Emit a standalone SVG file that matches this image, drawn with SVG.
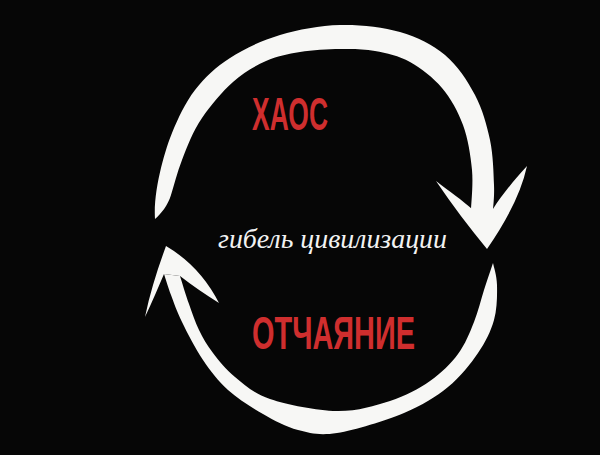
<svg xmlns="http://www.w3.org/2000/svg" width="600" height="455" viewBox="0 0 600 455">
<style>
.arrow{fill:#f7f7f5;stroke:none}
.red{fill:#cf2e2e;font-family:"Liberation Sans Narrow","Liberation Sans",sans-serif;font-weight:bold;font-size:46px}
.sub{fill:#f2f2f2;font-family:"Liberation Serif","DejaVu Serif",serif;font-style:italic;font-size:27px}
</style>
<rect width="600" height="455" fill="#060606"/>
<g id="connectors">
<g id="arrow-top">
<path class="arrow" d="M155,219 C153,190 165.7,148 172,133 C178.3,118 185.3,102.5 195,90 C204.7,77.5 215.8,67.2 230,58 C244.2,48.8 261.7,40.5 280,35 C298.3,29.5 320,25.5 340,25 C360,24.5 382.5,27 400,32 C417.5,37 432.5,44.5 445,55 C457.5,65.5 467.5,80.8 475,95 C482.5,109.2 486.8,125 490,140 C493.2,155 493.5,173.3 494,185 C494.5,196.7 493.2,205.8 493,210 L471,210 C471.2,203.3 473.3,184.2 472,170 C470.7,155.8 468,138.7 463,125 C458,111.3 450.8,98.5 442,88 C433.2,77.5 421.2,68.2 410,62 C398.8,55.8 386.7,53.2 375,51 C363.3,48.8 352.5,48.8 340,49 C327.5,49.2 312.3,50 300,52 C287.7,54 277.2,56 266,61 C254.8,66 243.8,72.5 233,82 C222.2,91.5 211,105 202,118 C193,131 187,147 182,160 C177,173 174,185 171,195 C168,205 161,214 155,219 Z"/>
<path class="arrow" d="M487,249 C470,228 452,205 436,181 C450,192 462,200 472,209 L493,209 C502,195 514,180 527,166 Q519,203 487,249 Z"/>
</g>
<g id="arrow-bottom">
<path class="arrow" d="M493,263 C493.7,266.7 496.8,275.5 497,285 C497.2,294.5 497.2,308.7 494,320 C490.8,331.3 485.7,341.8 478,353 C470.3,364.2 460.3,377 448,387 C435.7,397 422.5,405.3 404,413 C385.5,420.7 354.7,430.2 337,433 C319.3,435.8 310.3,433.2 298,430 C285.7,426.8 274.7,420.7 263,414 C251.3,407.3 238,399 228,390 C218,381 210.7,371.3 203,360 C195.3,348.7 187.3,332.8 182,322 C176.7,311.2 174,303 171,295 C168,287 165.2,277.5 164,274 L180,276 C181.5,280.7 185.8,295 189,304 C192.2,313 195,321.8 199,330 C203,338.2 207,345.2 213,353 C219,360.8 225.5,369.3 235,377 C244.5,384.7 253,393.3 270,399 C287,404.7 317,410.7 337,411 C357,411.3 374.5,406 390,401 C405.5,396 418.7,388.8 430,381 C441.3,373.2 450.7,363.8 458,354 C465.3,344.2 469.7,332.7 474,322 C478.3,311.3 480.8,299.8 484,290 C487.2,280.2 491.5,267.5 493,263 Z"/>
<path class="arrow" d="M166,246 C158,268 150,292 145,317 C152,302 158,288 164,274 L180,276 C193,286 205,294 219,303 Q200,266 166,246 Z"/>
</g>
</g>
<g id="node-chaos">
<text class="red" x="252" y="130" textLength="76" lengthAdjust="spacingAndGlyphs">ХАОС</text>
</g>
<g id="node-collapse">
<text class="sub" x="218" y="248" textLength="229" lengthAdjust="spacingAndGlyphs">гибель цивилизации</text>
</g>
<g id="node-despair">
<text class="red" x="252" y="349" textLength="163" lengthAdjust="spacingAndGlyphs">ОТЧАЯНИЕ</text>
</g>
</svg>
